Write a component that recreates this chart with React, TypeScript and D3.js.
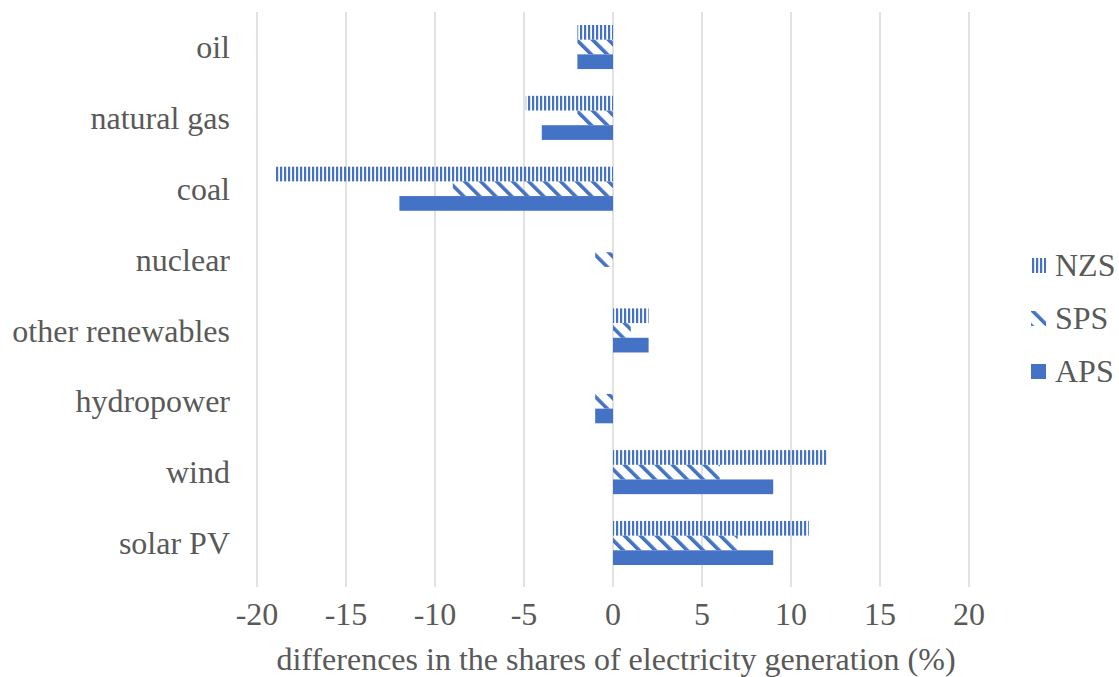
import React from 'react';
import * as d3 from 'd3';

// Differences in electricity generation shares by source, per scenario (percentage points)
const categories = ['oil', 'natural gas', 'coal', 'nuclear', 'other renewables', 'hydropower', 'wind', 'solar PV'];
const seriesNames = ['NZS', 'SPS', 'APS'];
const nzsValues = [-2, -4.9, -19, 0, 2, 0, 12, 11];
const spsValues = [-2, -2, -9, -1, 1, -1, 6, 7];
const apsValues = [-2, -4, -12, 0, 2, -1, 9, 9];
const xTicks = [-20, -15, -10, -5, 0, 5, 10, 15, 20];
const axisTitle = 'differences in the shares of electricity generation (%)';

const W = 1119;
const H = 677;
const BLUE = '#4472C4';
const TEXT = '#595959';
const GRID = '#d9d9d9';
const FONT = '"Liberation Serif", "Times New Roman", serif';
const FS = 32;

const fills: Record<string, string> = {
  NZS: 'url(#pat-vert)',
  SPS: 'url(#pat-diag)',
  APS: BLUE,
};

export default function App() {
  const x = d3.scaleLinear().domain([-20, 20]).range([257, 969]);
  const y = d3
    .scaleBand<string>()
    .domain(categories)
    .range([11.6, 578.4])
    .paddingInner(0.378)
    .paddingOuter(0.189);
  const ySub = d3.scaleBand<string>().domain(seriesNames).range([0, y.bandwidth()]);

  const seriesValues: Record<string, number[]> = {
    NZS: nzsValues,
    SPS: spsValues,
    APS: apsValues,
  };

  const gridTop = 12;
  const gridBottom = 587;

  return (
    <svg
      width={W}
      height={H}
      style={{ position: 'absolute', left: 0, top: 0, background: '#fff' }}
      fontFamily={FONT}
    >
      <defs>
        <pattern id="pat-vert" patternUnits="userSpaceOnUse" width={4} height={4}>
          <rect x={0} y={0} width={2.2} height={4} fill={BLUE} />
        </pattern>
        <pattern
          id="pat-diag"
          patternUnits="userSpaceOnUse"
          width={11.3}
          height={11.3}
          patternTransform="rotate(-45)"
        >
          <rect x={0} y={0} width={3.6} height={11.3} fill={BLUE} />
        </pattern>
      </defs>

      <rect x={0} y={0} width={W} height={H} fill="#fff" />

      {/* vertical gridlines */}
      {xTicks.map((t) => (
        <line
          key={`g${t}`}
          x1={x(t)}
          x2={x(t)}
          y1={gridTop}
          y2={gridBottom}
          stroke={GRID}
          strokeWidth={1.5}
        />
      ))}

      {/* bars */}
      {categories.map((c, i) => (
        <g key={c} transform={`translate(0,${y(c)})`}>
          {seriesNames.map((s) => {
            const v = seriesValues[s][i];
            if (v === 0) return null;
            const x0 = Math.min(x(0), x(v));
            const w = Math.abs(x(v) - x(0));
            return (
              <rect
                key={s}
                x={x0}
                y={ySub(s)}
                width={w}
                height={ySub.bandwidth()}
                fill={fills[s]}
              />
            );
          })}
        </g>
      ))}

      {/* category labels */}
      {categories.map((c) => (
        <text
          key={`l${c}`}
          x={230}
          y={(y(c) ?? 0) + y.bandwidth() / 2}
          dy="0.35em"
          textAnchor="end"
          fontSize={FS}
          fill={TEXT}
        >
          {c}
        </text>
      ))}

      {/* value axis tick labels */}
      {xTicks.map((t) => (
        <text
          key={`t${t}`}
          x={x(t)}
          y={625}
          textAnchor="middle"
          fontSize={FS}
          fill={TEXT}
        >
          {t}
        </text>
      ))}

      {/* axis title */}
      <text x={x(0) + 3} y={670} textAnchor="middle" fontSize={FS} fill={TEXT}>
        {axisTitle}
      </text>

      {/* legend */}
      {seriesNames.map((s, i) => {
        const baseline = 276 + i * 53;
        return (
          <g key={`lg${s}`}>
            <rect x={1031} y={baseline - 18} width={15} height={15} fill={fills[s]} />
            <text x={1055} y={baseline} fontSize={FS} fill={TEXT}>
              {s}
            </text>
          </g>
        );
      })}
    </svg>
  );
}
